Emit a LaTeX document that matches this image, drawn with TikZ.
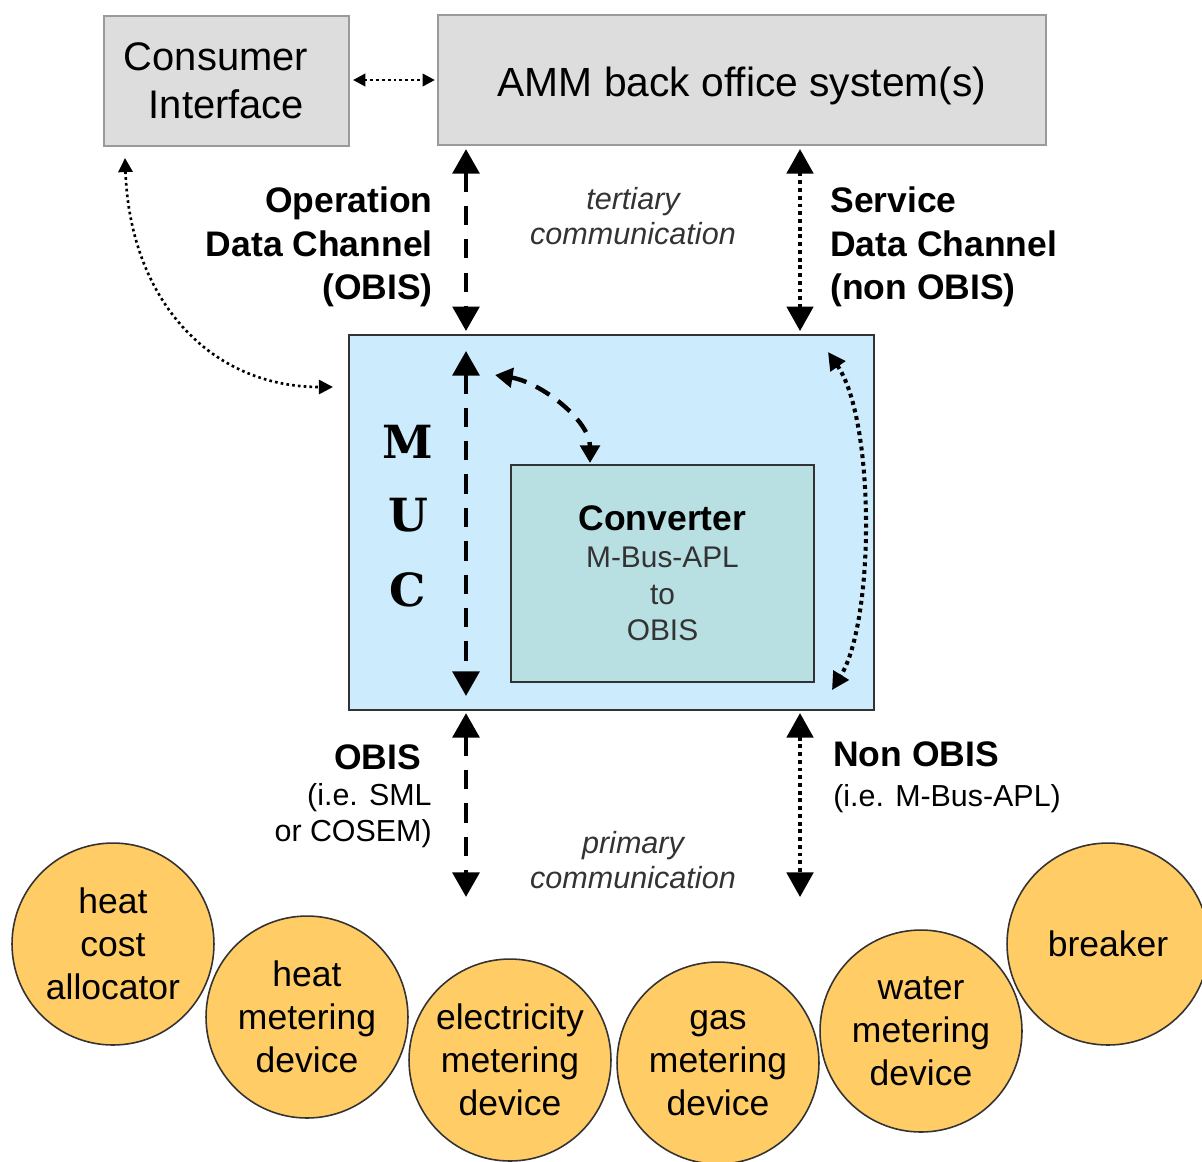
\documentclass[tikz,border=0pt]{standalone}
\usepackage{fontspec}
\setmainfont{Liberation Sans}
\newfontfamily\serifslab{DejaVu Serif}
\usetikzlibrary{arrows.meta,calc}
\definecolor{boxgray}{HTML}{DDDDDD}
\definecolor{boxline}{HTML}{9A9A9A}
\definecolor{mucblue}{HTML}{CCEBFC}
\definecolor{convfill}{HTML}{B8DFE1}
\definecolor{devfill}{HTML}{FFCC66}
\definecolor{darkline}{HTML}{333333}
\definecolor{softtext}{HTML}{333333}
\begin{document}
\begin{tikzpicture}[x=0.02cm,y=-0.02cm,
  graybox/.style={draw=boxline,fill=boxgray,line width=1.2pt,inner sep=0pt},
  mucbox/.style={draw=darkline,fill=mucblue,line width=1.1pt,inner sep=0pt},
  convbox/.style={draw=darkline,fill=convfill,line width=1.1pt,inner sep=0pt},
  device/.style={circle,draw=darkline,fill=devfill,line width=0.9pt,minimum size=4.04cm,inner sep=0pt,align=center,font=\fontsize{20.2}{24.4}\selectfont},
  bigtip/.style={{Triangle[width=15pt,length=14pt]}-{Triangle[width=15pt,length=14pt]}},
  dashline/.style={line width=2.8pt,dash pattern=on 11pt off 8pt},
  dotline/.style={line width=2.3pt,dash pattern=on 2.2pt off 2.2pt},
  boldlabel/.style={font=\bfseries\fontsize{20.2}{24.7}\selectfont,inner sep=0pt},
  commlabel/.style={font=\itshape\fontsize{17.4}{20.4}\selectfont,text=softtext,align=center},
  mucletter/.style={font=\serifslab\bfseries\fontsize{26}{30}\selectfont},
]
\useasboundingbox (0,0) rectangle (1202,1161);

% boxes
\node[graybox,minimum width=4.9cm,minimum height=2.6cm,align=center,font=\fontsize{22.7}{27.2}\selectfont] (ci) at (226.5,81) {\makebox[0pt]{\hspace*{-12pt}Consumer}\\Interface};
\node[graybox,minimum width=12.16cm,minimum height=2.6cm,font=\fontsize{23.2}{27}\selectfont,text height=19.8pt,text depth=1pt] (amm) at (742,80) {AMM back office system(s)};
\node[mucbox,minimum width=10.5cm,minimum height=7.5cm] (muc) at (611.5,522.5) {};
\node[convbox,minimum width=6.06cm,minimum height=4.34cm,align=center,font=\fontsize{17}{20.9}\selectfont,text=softtext] (conv) at (662.5,573.5) {{\bfseries\fontsize{20.2}{22}\selectfont\color{black}Converter}\\M-Bus-APL\\to\\OBIS};

% MUC letters
\node[mucletter] (mucm) at (408,442) {M};
\node[mucletter] (mucu) at (408,515) {U};
\node[mucletter] (mucc) at (408,590) {C};

% labels
\node[boldlabel,align=right,anchor=east] (odc) at (433,247) {Operation\\Data Channel\\(OBIS)};
\node[boldlabel,align=left,anchor=west] (sdc) at (830,247) {Service\\Data Channel\\(non OBIS)};
\node[commlabel] (tert) at (633,216) {tertiary\\communication};
\node[commlabel] (prim) at (633,860) {primary\\communication};
\node[align=right,anchor=east,inner sep=0pt,font=\fontsize{17.3}{20.4}\selectfont] (obis) at (432,796) {{\bfseries\fontsize{20.2}{21.5}\selectfont OBIS\hspace*{6pt}}\\(i.e. SML\hspace*{8pt}\\or COSEM)};
\node[align=left,anchor=west,inner sep=0pt,font=\fontsize{17.3}{22.6}\selectfont] (nobis) at (833,777) {{\bfseries\fontsize{20.2}{22.6}\selectfont Non OBIS}\\(i.e. M-Bus-APL)};

% devices
\node[device] (hca) at (113,944) {heat\\cost\\allocator};
\node[device] (hmd) at (307,1017) {heat\\metering\\device};
\node[device] (emd) at (510,1060) {electricity\\metering\\device};
\node[device] (gmd) at (718,1063) {gas\\metering\\device};
\node[device] (wmd) at (921,1031) {water\\metering\\device};
\node[device] (brk) at (1108,944) {breaker};

% coordinates
\coordinate (opx) at (466,0);
\coordinate (svx) at (800,0);
\coordinate (oend) at (466,897);
\coordinate (send) at (800,897);
\coordinate (cis) at (125,158);
\coordinate (mucl) at (333,387);
\coordinate (inl) at (495,375);
\coordinate (cvt) at (590,463);
\coordinate (rt) at (828,352);
\coordinate (rb) at (832,690);

% top connector between boxes
\draw[{Triangle[width=7pt,length=7pt]}-{Triangle[width=7pt,length=7pt]},line width=1.6pt,dash pattern=on 1.6pt off 1.7pt,shorten <=1.7pt,shorten >=1.2pt] (ci.east |- amm.west) -- (amm.west);

% tertiary channels
\draw[bigtip,dashline,shorten <=1.7pt,shorten >=1.7pt] (amm.south -| opx) -- (muc.north -| opx);
\draw[bigtip,dotline,shorten <=1.7pt,shorten >=1.7pt] (amm.south -| svx) -- (muc.north -| svx);

% inside MUC
\draw[bigtip,dashline,shorten <=9.6pt,shorten >=8.5pt] (muc.north -| opx) -- (muc.south -| opx);
\draw[{Triangle[width=11pt,length=10pt]}-{Triangle[width=11pt,length=10pt]},line width=2.5pt,dash pattern=on 9pt off 6pt] (inl) .. controls (540,382) and (590,420) .. (cvt);
\draw[{Triangle[width=10pt,length=10pt]}-{Triangle[width=10pt,length=10pt]},line width=2.3pt,dash pattern=on 2.2pt off 2.2pt] (rt) .. controls (875,420) and (875,620) .. (rb);

% consumer interface to MUC
\draw[{Triangle[width=8pt,length=8pt]}-{Triangle[width=8pt,length=8pt]},line width=1.5pt,dash pattern=on 1.5pt off 1.8pt] (cis) .. controls (130,300) and (210,387) .. (mucl);

% primary channels
\draw[bigtip,dashline,shorten <=1.2pt] (muc.south -| opx) -- (oend);
\draw[bigtip,dotline,shorten <=1.2pt] (muc.south -| svx) -- (send);
\end{tikzpicture}
\end{document}
